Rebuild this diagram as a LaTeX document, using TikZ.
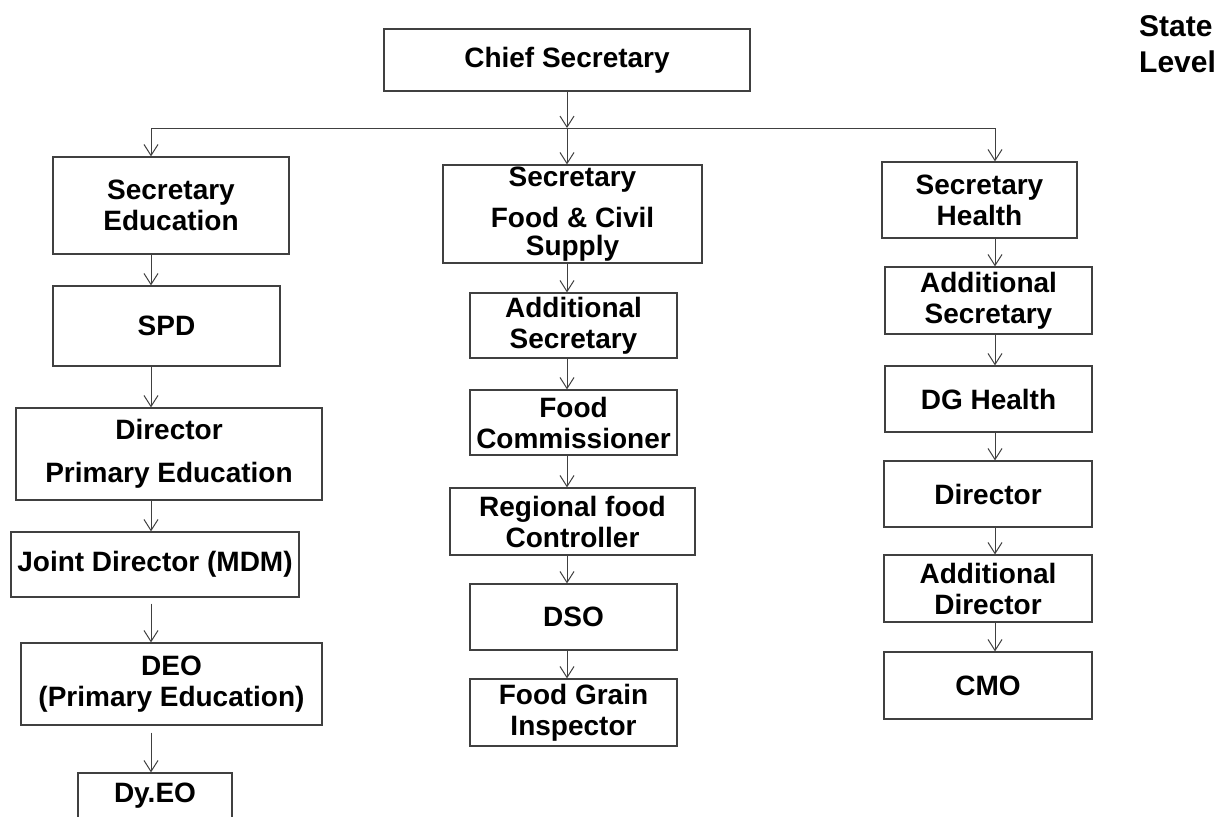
\documentclass[tikz,border=0pt]{standalone}
\usepackage{fontspec}
\setmainfont{Liberation Sans}
\usetikzlibrary{arrows.meta}

\begin{document}
\begin{tikzpicture}[x=1pt,y=-1pt,
    >={Straight Barb[length=11pt,width=14pt]},
    box/.style={draw=black!75,line width=1.2pt,inner sep=0pt,align=center,
      font=\bfseries\fontsize{28}{31}\selectfont},
    link/.style={draw=black!75,line width=1pt}]
    \fill[white] (0,0) rectangle (1228,816);
    \clip (0,0) rectangle (1228,816);
    \coordinate (colL) at (151,0);
    \coordinate (colM) at (567,0);
    \coordinate (colR) at (995,0);
    \coordinate (bar) at (567,128);
    \node (chief) [box,minimum width=366pt,minimum height=62pt] at (567,60) {Chief Secretary};
    \node (stateLvl) [anchor=north west,inner sep=0pt,align=left,
      font=\bfseries\fontsize{30}{36}\selectfont] at (1139,15) {State\\Level};
    % education
    \node (secEd) [box,minimum width=236pt,minimum height=97pt] at (171,205.5) {Secretary\\Education};
    \node (spd) [box,minimum width=227pt,minimum height=80pt] at (166.5,326) {SPD};
    \node (dirPE) [box,minimum width=306pt,minimum height=92pt] at (169,454) {Director\\[12pt]Primary Education};
    \node (jdMdm) [box,minimum width=288pt,minimum height=65pt] at (155,564.5) {Joint Director (MDM)};
    \node (deo) [box,minimum width=301pt,minimum height=82pt] at (171.5,684) {DEO\\(Primary Education)};
    \node (dyEo) [box,minimum width=154pt,minimum height=45pt] at (155,795.5) {Dy.EO};
    % food
    \node (secFood) [box,minimum width=259pt,minimum height=98pt] at (572.5,214) {Secretary\\[10pt]Food \& Civil\\[-3pt]Supply};
    \node (addSec) [box,minimum width=207pt,minimum height=65pt] at (573.5,325.5) {Additional\\Secretary};
    \node (foodCom) [box,minimum width=207pt,minimum height=65pt] at (573.5,422.5) {Food\\Commissioner};
    \node (regCtl) [box,minimum width=245pt,minimum height=67pt] at (572.5,521.5) {Regional food\\Controller};
    \node (dso) [box,minimum width=207pt,minimum height=66pt] at (573.5,617) {DSO};
    \node (fgInsp) [box,minimum width=207pt,minimum height=67pt] at (573.5,712.5) {Food Grain\\Inspector};
    % health
    \node (secHl) [box,minimum width=195pt,minimum height=76pt] at (979.5,200) {Secretary\\Health};
    \node (addSecHl) [box,minimum width=207pt,minimum height=67pt] at (988.5,300.5) {Additional\\Secretary};
    \node (dgHl) [box,minimum width=207pt,minimum height=66pt] at (988.5,399) {DG Health};
    \node (dirHl) [box,minimum width=208pt,minimum height=66pt] at (988,494) {Director};
    \node (addDir) [box,minimum width=208pt,minimum height=67pt] at (988,588.5) {Additional\\Director};
    \node (cmo) [box,minimum width=208pt,minimum height=67pt] at (988,685.5) {CMO};
    % links
    \draw[link,->] (chief.south) -- (bar);
    \draw[link] (bar -| colL) -- (bar -| colR);
    \draw[link,->] (bar -| colL) -- (secEd.north -| colL);
    \draw[link,->] (bar) -- (secFood.north -| colM);
    \draw[link,->] (bar -| colR) -- (secHl.north -| colR);
    \draw[link,->] (secEd.south -| colL) -- (spd.north -| colL);
    \draw[link,->] (spd.south -| colL) -- (dirPE.north -| colL);
    \draw[link,->] (dirPE.south -| colL) -- (jdMdm.north -| colL);
    \draw[link,->] ([yshift=-6pt]jdMdm.south -| colL) -- (deo.north -| colL);
    \draw[link,->] ([yshift=-7pt]deo.south -| colL) -- (dyEo.north -| colL);
    \draw[link,->] (secFood.south -| colM) -- (addSec.north -| colM);
    \draw[link,->] (addSec.south -| colM) -- (foodCom.north -| colM);
    \draw[link,->] (foodCom.south -| colM) -- (regCtl.north -| colM);
    \draw[link,->] (regCtl.south -| colM) -- (dso.north -| colM);
    \draw[link,->] (dso.south -| colM) -- (fgInsp.north -| colM);
    \draw[link,->] (secHl.south -| colR) -- (addSecHl.north -| colR);
    \draw[link,->] (addSecHl.south -| colR) -- (dgHl.north -| colR);
    \draw[link,->] (dgHl.south -| colR) -- (dirHl.north -| colR);
    \draw[link,->] (dirHl.south -| colR) -- (addDir.north -| colR);
    \draw[link,->] (addDir.south -| colR) -- (cmo.north -| colR);
  \end{tikzpicture}
\end{document}
